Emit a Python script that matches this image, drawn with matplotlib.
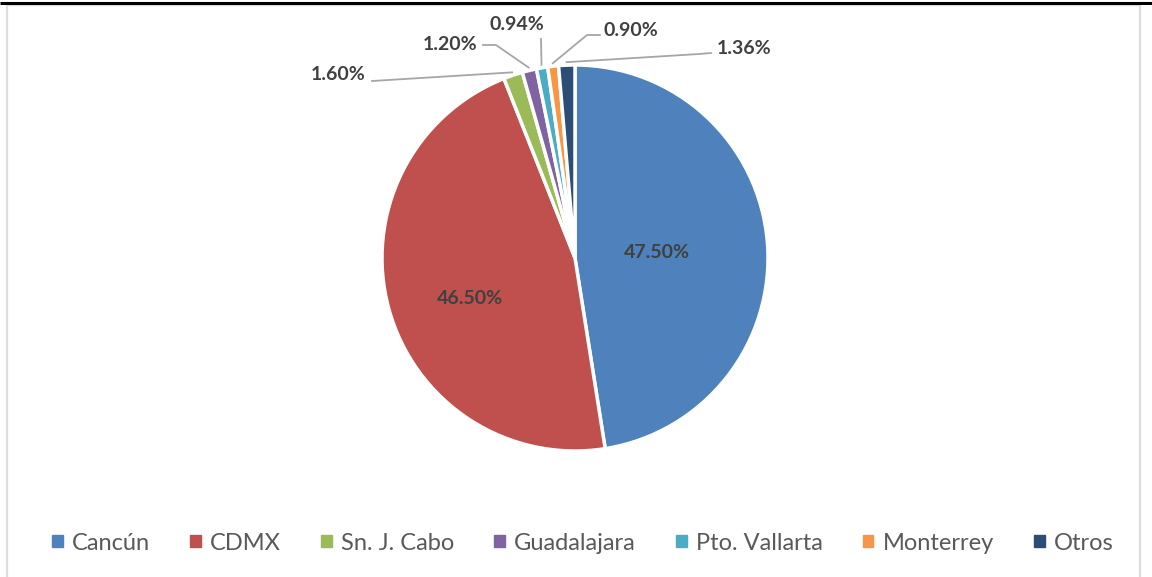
import numpy as np
import matplotlib.pyplot as plt
from matplotlib.patches import Rectangle

plt.rcParams['font.family'] = ['Lato', 'DejaVu Sans']

# data
ciudades = ['Cancún', 'CDMX', 'Sn. J. Cabo', 'Guadalajara', 'Pto. Vallarta', 'Monterrey', 'Otros']
porcentajes = [47.50, 46.50, 1.60, 1.20, 0.94, 0.90, 1.36]
colores = ['#4F81BD', '#C0504D', '#9BBB59', '#8064A2', '#4BACC6', '#F79646', '#2C4D75']

W, H = 1152, 577
CX, CY, R = 575, H - 258, 193

# label layout (pixel coords, y from top): text anchor, elbow of leader line
inner_pos = {0: (657, 252), 1: (470, 298)}
outer_pos = {
    2: ((366, 75), 'right', [(372, 81)]),
    3: ((477, 45), 'right', [(483, 45), (496, 45)]),
    4: ((517, 24), 'center', [(541, 39)]),
    5: ((604, 31), 'left', [(600, 35), (587, 35)]),
    6: ((717, 48), 'left', [(711, 53), (699, 54)]),
}

fig = plt.figure(figsize=(W / 100, H / 100), dpi=100)
ax = fig.add_axes([0, 0, 1, 1])

# chart border and top line
ax.add_patch(Rectangle((7, -10), 1133, H - 4.5 + 10, fill=False, ec='#DDDDDD', lw=1.6))
ax.plot([0, W], [H - 2.5, H - 2.5], color='black', lw=2.2, solid_capstyle='butt')

wedges, _ = ax.pie(porcentajes, colors=colores, startangle=90, counterclock=False,
                   center=(CX, CY), radius=R, frame=True,
                   wedgeprops=dict(edgecolor='white', linewidth=2.5))
ax.set_xlim(0, W)
ax.set_ylim(0, H)
ax.set_aspect('auto')
ax.axis('off')

txt_kw = dict(fontsize=14, fontweight='bold', color='#404040', va='center')

for i, w in enumerate(wedges):
    lab = '%.2f%%' % porcentajes[i]
    if i in inner_pos:
        x, y = inner_pos[i]
        ax.text(x, H - y, lab, ha='center', **txt_kw)
    else:
        (x, y), ha, elbow = outer_pos[i]
        ang = np.deg2rad((w.theta1 + w.theta2) / 2)
        px = CX + (R + 3) * np.cos(ang)
        py = CY + (R + 3) * np.sin(ang)
        xs = [px] + [e[0] for e in elbow][::-1]
        ys = [py] + [H - e[1] for e in elbow][::-1]
        ax.plot(xs, ys, color='#A6A6A6', lw=1.3)
        ax.text(x, H - y, lab, ha=ha, **txt_kw)

handles = [Rectangle((0, 0), 1, 1, color=c) for c in colores]
fig.legend(handles, ciudades, loc='center', bbox_to_anchor=(0.506, 1 - 543 / H), ncol=7,
           frameon=False, fontsize=17, labelcolor='#595959', handlelength=0.45,
           handleheight=0.45, handletextpad=0.4, columnspacing=1.69)

fig.savefig('out.png', dpi=100)
